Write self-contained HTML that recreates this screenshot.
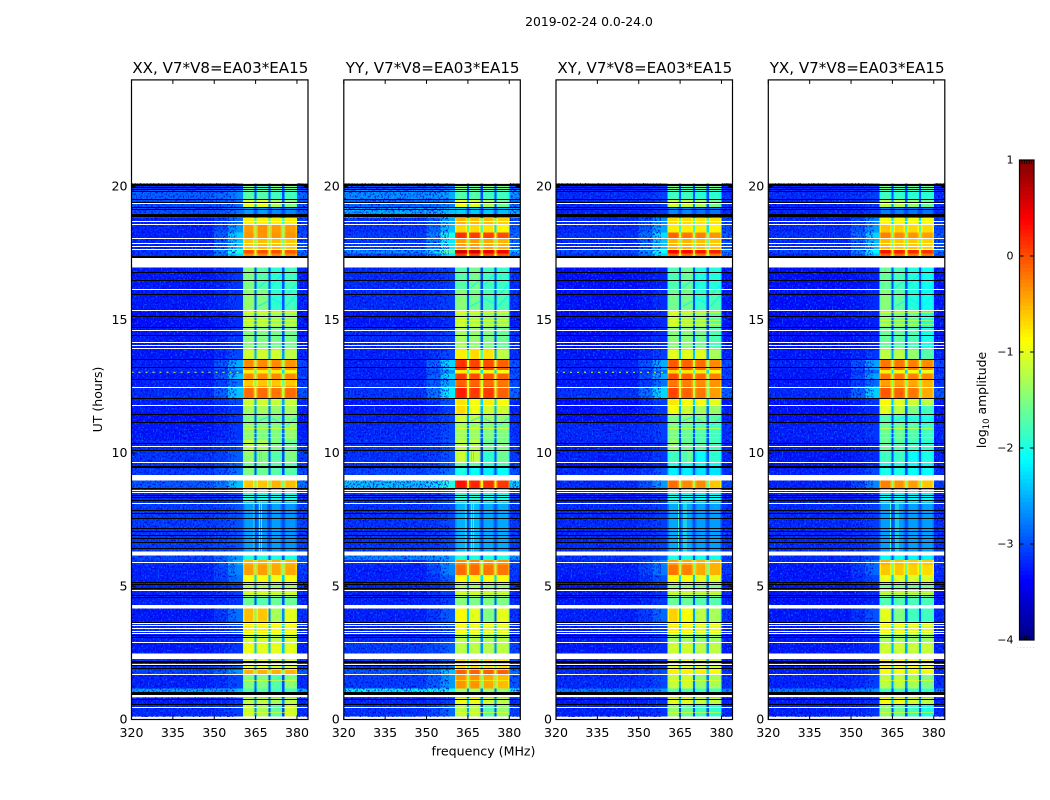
<!DOCTYPE html>
<html lang="en">
<head>
<meta charset="utf-8">
<title>2019-02-24 waterfall</title>
<style>
html,body{margin:0;padding:0;background:#fff;}
svg{display:block;}
text{font-family:"DejaVu Sans","Liberation Sans",sans-serif;fill:#000;}
</style>
</head>
<body>
<svg id="chart" width="1050" height="800" viewBox="0 0 1050 800" xmlns="http://www.w3.org/2000/svg">
<defs>
<filter id="speckle-light" x="0" y="0" width="1" height="1" color-interpolation-filters="sRGB">
<feTurbulence type="fractalNoise" baseFrequency="0.62 0.48" numOctaves="2" seed="4"/>
<feColorMatrix type="matrix" values="0 0 0 0 0  0 0 0 0 0.42  0 0 0 0 1  0 0 0 4.5 -2.45"/>
</filter>
<filter id="speckle-dark" x="0" y="0" width="1" height="1" color-interpolation-filters="sRGB">
<feTurbulence type="fractalNoise" baseFrequency="0.6 0.5" numOctaves="2" seed="19"/>
<feColorMatrix type="matrix" values="0 0 0 0 0  0 0 0 0 0  0 0 0 0 0.85  0 0 0 4.5 -2.2"/>
</filter>
</defs>
<rect x="0" y="0" width="1050" height="800" fill="#fff"/>
<text x="589" y="26" font-size="12.4" text-anchor="middle">2019-02-24 0.0-24.0</text>
<text x="483.5" y="755.5" font-size="12.6" text-anchor="middle">frequency (MHz)</text>
<text x="102" y="399.5" font-size="12.5" text-anchor="middle" transform="rotate(-90 102 399.5)">UT (hours)</text>
<text x="986" y="400" font-size="12.4" text-anchor="middle" transform="rotate(-90 986 400)">log<tspan font-size="8.5" dy="3">10</tspan><tspan dy="-3"> amplitude</tspan></text>
<g id="panels"></g>
<g id="colorbar"></g>
</svg>
<script>
const panelNames = ['XX, V7*V8=EA03*EA15','YY, V7*V8=EA03*EA15','XY, V7*V8=EA03*EA15','YX, V7*V8=EA03*EA15'];
const freqTicks = [320,335,350,365,380];
const hourTicks = [0,5,10,15,20];
const colorTicks = [1,0,-1,-2,-3,-4];
const blockStart = [19.89,19.52,19.22,18.81,18.56,18.28,18.07,17.65,17.48,17.31,16.12,15.37,14.74,13.87,13.49,13.11,12.99,12.75,12.49,12.06,11.79,11.45,11.14,10.49,10.07,9.64,9.43,9.17,8.68,8.14,6.30,5.98,5.80,5.42,5.15,4.61,4.30,3.67,3.23,2.90,2.48,1.86,1.71,1.17,1.04,0.92,0.80,0.54,0.11];
const blockEnd = [20.12,19.89,19.52,19.22,18.81,18.56,18.28,18.07,17.65,17.48,16.97,16.12,15.37,14.74,13.87,13.49,13.11,12.99,12.75,12.49,12.06,11.79,11.45,11.14,10.49,10.07,9.64,9.43,8.96,8.68,8.14,6.15,5.98,5.80,5.42,5.15,4.61,4.16,3.67,3.23,2.90,2.27,1.86,1.71,1.17,1.04,0.92,0.80,0.54];
/* each row: background, shoulder, sub-band 1..4 (log10 amplitude) */
const levelsXX = [
[-3.0,-2.9,-1.5,-1.8,-1.5,-1.5],[-2.75,-2.6,-1.7,-1.7,-1.8,-1.8],[-2.85,-2.7,-1.0,-1.0,-1.3,-1.5],[-2.85,-2.7,-2.6,-2.6,-2.7,-2.7],
[-3.1,-2.7,-0.8,-0.8,-0.8,-0.8],[-3.1,-2.5,-0.4,-0.35,-0.4,-0.4],[-3.1,-2.2,-0.35,-0.35,-0.35,-0.35],[-3.1,-2.3,-0.6,-0.55,-0.55,-0.6],
[-3.0,-1.9,0.0,0.0,0.0,-0.05],[-3.0,-2.2,-0.3,-0.3,-0.3,-0.3],[-3.15,-3.0,-1.5,-1.7,-1.9,-1.8],[-3.15,-3.0,-1.4,-1.5,-1.9,-1.8],
[-3.2,-3.05,-1.25,-1.3,-1.4,-1.4],[-3.15,-3.0,-1.45,-1.5,-1.55,-1.55],[-3.15,-2.9,-1.1,-1.1,-1.1,-1.2],[-3.1,-2.4,-0.3,-0.3,-0.3,-0.35],
[-3.1,-2.7,-0.8,-0.8,-0.8,-0.85],[-3.15,-2.3,-0.3,-0.3,-0.3,-0.3],[-3.1,-2.7,-0.6,-0.6,-0.6,-0.6],[-3.05,-2.3,-0.15,-0.15,-0.2,-0.15],
[-3.1,-2.9,-1.1,-1.1,-1.15,-1.15],[-3.15,-3.0,-1.3,-1.3,-1.4,-1.3],[-3.2,-3.0,-1.5,-1.5,-1.5,-1.5],[-3.15,-3.0,-1.4,-1.5,-1.5,-1.4],
[-3.05,-2.9,-1.2,-1.3,-1.5,-1.6],[-3.0,-2.8,-1.4,-1.5,-1.7,-1.5],[-3.0,-2.8,-1.6,-1.6,-1.7,-1.7],[-2.95,-2.7,-1.5,-1.6,-1.7,-1.7],
[-2.8,-2.3,-0.6,-0.6,-0.5,-0.55],[-3.05,-2.9,-1.9,-2.0,-2.0,-2.0],[-2.95,-2.85,-2.6,-2.65,-2.6,-2.65],[-2.9,-2.5,-2.0,-2.0,-2.0,-2.0],
[-3.0,-2.4,-0.5,-0.5,-0.5,-0.5],[-3.1,-2.6,-0.4,-0.4,-0.45,-0.45],[-3.1,-2.7,-0.9,-0.9,-0.95,-0.9],[-3.1,-2.95,-1.3,-1.3,-1.4,-1.3],
[-3.1,-3.0,-1.6,-1.7,-1.6,-1.6],[-3.15,-2.7,-0.55,-0.6,-1.3,-1.0],[-3.05,-2.9,-0.8,-0.8,-0.9,-0.9],[-3.1,-3.0,-1.1,-1.1,-1.2,-1.1],
[-3.15,-3.0,-0.95,-1.0,-1.0,-1.0],[-3.0,-2.8,-1.0,-1.0,-1.05,-1.05],[-2.9,-2.5,-0.5,-0.5,-0.5,-0.5],[-3.1,-2.9,-1.5,-1.5,-1.7,-1.45],
[-2.4,-2.3,-1.7,-1.7,-1.8,-1.8],[-3.1,-3.0,-2.3,-2.3,-2.4,-2.4],[-2.35,-2.3,-1.9,-1.9,-2.0,-2.0],[-3.15,-3.0,-1.2,-1.2,-1.3,-1.2],[-3.05,-2.95,-1.15,-1.3,-1.65,-1.1]
];
const levelsYY = [
[-2.8,-2.7,-1.4,-1.6,-1.5,-1.5],[-2.5,-2.4,-1.7,-1.7,-1.8,-1.8],[-2.7,-2.6,-0.95,-1.05,-1.3,-1.6],[-2.35,-2.3,-2.35,-2.4,-2.4,-2.45],
[-3.0,-2.4,-0.5,-0.55,-0.55,-0.65],[-3.0,-2.3,-0.7,-0.7,-0.75,-0.85],[-2.95,-1.9,0.15,0.1,0.05,0.0],[-2.95,-2.1,-0.4,-0.4,-0.45,-0.5],
[-2.5,-1.6,0.6,0.55,0.45,0.4],[-2.9,-2.1,0.1,0.05,0.0,-0.05],[-3.05,-2.95,-1.7,-1.55,-1.8,-1.85],[-3.05,-2.95,-1.45,-1.55,-1.75,-1.75],
[-3.15,-3.05,-1.2,-1.3,-1.4,-1.4],[-3.05,-2.95,-1.3,-1.4,-1.5,-1.6],[-3.1,-2.9,-0.8,-0.7,-0.75,-1.2],[-3.1,-2.2,0.15,0.05,0.0,-0.1],
[-3.1,-2.5,-0.8,-0.8,-0.85,-0.9],[-3.1,-2.2,0.1,0.0,-0.05,-0.1],[-3.05,-2.4,-0.1,-0.1,-0.15,-0.2],[-3.0,-2.1,0.25,0.1,0.1,-0.1],
[-3.15,-2.85,-0.75,-0.9,-0.8,-0.9],[-3.15,-2.95,-0.7,-0.95,-1.1,-1.1],[-3.1,-2.9,-1.1,-1.15,-1.3,-1.4],[-3.05,-2.9,-1.3,-1.35,-1.5,-1.5],
[-3.0,-2.85,-1.2,-1.25,-1.6,-1.5],[-3.0,-2.85,-1.1,-1.2,-1.9,-1.6],[-3.0,-2.8,-1.7,-1.7,-1.9,-1.8],[-2.9,-2.7,-2.0,-2.1,-2.2,-2.1],
[-2.25,-1.85,0.3,0.2,0.15,0.1],[-3.0,-2.85,-1.9,-1.9,-2.0,-2.0],[-3.0,-2.9,-2.5,-2.45,-2.55,-2.55],[-2.55,-2.4,-1.95,-2.0,-2.0,-2.0],
[-3.0,-2.5,-0.3,-0.3,-0.35,-0.35],[-3.1,-2.6,-0.15,-0.15,-0.2,-0.2],[-3.1,-2.8,-0.85,-0.85,-0.9,-0.9],[-3.1,-2.95,-1.3,-1.3,-1.4,-1.4],
[-3.1,-2.95,-1.45,-1.5,-1.5,-1.5],[-3.1,-2.8,-0.85,-1.0,-1.5,-1.0],[-3.05,-2.9,-0.9,-0.95,-1.0,-1.0],[-3.05,-2.9,-1.2,-1.2,-1.3,-1.2],
[-2.95,-2.8,-1.2,-1.2,-1.25,-1.2],[-2.95,-2.7,-0.7,-0.7,-0.75,-0.75],[-2.8,-2.3,-0.1,-0.1,-0.1,-0.1],[-2.95,-2.5,-0.35,-0.35,-0.45,-0.55],
[-2.0,-1.9,-1.3,-1.3,-1.35,-1.4],[-3.0,-2.9,-2.2,-2.2,-2.3,-2.3],[-2.9,-2.8,-2.0,-2.0,-2.1,-2.1],[-3.1,-2.95,-0.95,-0.95,-1.1,-1.2],[-3.0,-2.75,-1.2,-1.2,-1.7,-1.4]
];
const levelsXY = [
[-3.1,-3.0,-1.5,-1.7,-1.55,-1.55],[-3.05,-2.95,-1.8,-1.8,-1.9,-1.9],[-3.05,-2.95,-1.1,-1.15,-1.3,-1.55],[-3.1,-3.0,-2.7,-2.7,-2.8,-2.8],
[-3.05,-2.55,-0.7,-0.7,-0.75,-0.75],[-3.05,-2.45,-0.8,-0.8,-0.8,-0.85],[-3.0,-2.15,-0.1,-0.2,-0.25,-0.35],[-3.05,-2.3,-0.5,-0.5,-0.55,-0.6],
[-2.85,-1.95,0.4,0.35,0.3,0.25],[-3.0,-2.2,-0.1,-0.15,-0.2,-0.25],[-3.2,-3.1,-1.75,-1.6,-1.95,-1.95],[-3.2,-3.05,-1.55,-1.55,-1.85,-1.75],
[-3.2,-3.05,-1.15,-1.3,-1.4,-1.7],[-3.2,-3.05,-1.45,-1.45,-1.55,-1.75],[-3.15,-2.95,-1.0,-1.0,-1.0,-1.3],[-3.1,-2.4,-0.05,-0.1,-0.15,-0.3],
[-3.1,-2.7,-0.7,-0.75,-0.8,-0.85],[-3.15,-2.4,0.0,-0.1,-0.15,-0.25],[-3.15,-2.7,-0.2,-0.25,-0.3,-0.35],[-3.0,-2.2,0.05,-0.1,-0.2,-0.4],
[-3.2,-2.95,-0.75,-0.9,-0.9,-1.0],[-3.2,-3.0,-0.9,-1.1,-1.3,-1.4],[-3.2,-3.05,-1.5,-1.4,-1.5,-1.7],[-3.05,-2.95,-1.5,-1.6,-1.7,-1.8],
[-3.1,-3.0,-1.4,-1.6,-1.7,-1.8],[-3.1,-3.0,-1.8,-1.6,-2.1,-1.9],[-3.2,-3.1,-2.0,-2.05,-2.1,-2.1],[-3.05,-2.85,-2.2,-2.2,-2.25,-2.25],
[-3.05,-2.5,-0.15,-0.3,-0.3,-0.6],[-3.15,-3.0,-2.0,-2.05,-2.1,-2.1],[-3.05,-2.95,-2.55,-2.55,-2.6,-2.6],[-3.0,-2.85,-2.0,-2.0,-2.05,-2.05],
[-3.05,-2.6,-0.4,-0.45,-0.5,-0.5],[-3.1,-2.65,-0.2,-0.25,-0.45,-0.5],[-3.15,-2.85,-0.85,-0.9,-1.0,-1.0],[-3.15,-3.0,-1.4,-1.4,-1.5,-1.5],
[-3.15,-3.0,-1.6,-1.6,-1.7,-1.7],[-3.1,-2.75,-0.65,-0.9,-1.2,-1.3],[-3.1,-2.95,-0.8,-0.85,-1.0,-1.0],[-3.15,-3.0,-1.3,-1.3,-1.4,-1.35],
[-3.15,-3.05,-1.1,-1.1,-1.2,-1.2],[-3.15,-3.0,-1.0,-1.0,-1.05,-1.1],[-3.05,-2.85,-0.8,-0.8,-0.8,-0.9],[-3.05,-2.9,-1.15,-1.1,-1.4,-1.3],
[-2.6,-2.5,-1.7,-1.75,-1.8,-1.8],[-3.1,-3.0,-2.4,-2.4,-2.45,-2.45],[-2.9,-2.85,-2.0,-2.0,-2.05,-2.05],[-3.15,-3.05,-1.0,-1.0,-1.15,-1.2],[-3.1,-3.0,-1.4,-1.6,-1.8,-1.9]
];
const levelsYX = [
[-3.1,-3.0,-1.5,-1.7,-1.6,-1.6],[-3.05,-2.95,-1.8,-1.85,-1.9,-1.9],[-3.1,-3.0,-1.2,-1.25,-1.4,-1.6],[-3.1,-3.0,-2.75,-2.75,-2.8,-2.8],
[-3.1,-2.6,-0.85,-0.85,-0.9,-0.9],[-3.05,-2.5,-0.6,-0.65,-0.7,-0.7],[-3.0,-2.2,-0.25,-0.3,-0.35,-0.4],[-3.05,-2.35,-0.55,-0.6,-0.6,-0.65],
[-2.9,-2.05,0.3,0.25,0.2,0.15],[-3.05,-2.3,-0.1,-0.15,-0.2,-0.2],[-3.2,-3.1,-1.6,-1.75,-1.95,-2.05],[-3.2,-3.05,-1.45,-1.65,-1.95,-2.05],
[-3.2,-3.1,-1.45,-1.55,-1.65,-1.95],[-3.2,-3.1,-1.6,-1.65,-1.75,-2.0],[-3.15,-3.0,-1.2,-1.2,-1.4,-1.7],[-3.1,-2.45,-0.2,-0.2,-0.25,-0.3],
[-3.15,-2.75,-0.8,-0.85,-0.9,-0.95],[-3.15,-2.45,-0.2,-0.2,-0.25,-0.3],[-3.15,-2.75,-0.4,-0.4,-0.45,-0.5],[-3.05,-2.25,-0.05,-0.1,-0.2,-0.45],
[-3.2,-3.0,-0.85,-1.0,-1.1,-1.2],[-3.2,-3.05,-1.0,-1.2,-1.5,-1.8],[-3.2,-3.1,-1.7,-1.8,-1.9,-2.0],[-3.1,-3.0,-1.6,-1.6,-1.7,-1.8],
[-3.15,-3.05,-1.6,-1.7,-1.8,-1.9],[-3.15,-3.05,-1.8,-1.8,-2.1,-2.0],[-3.2,-3.1,-2.0,-2.0,-2.1,-2.1],[-3.1,-2.9,-2.0,-2.0,-2.1,-2.1],
[-3.1,-2.6,-0.25,-0.35,-0.4,-0.6],[-3.15,-3.05,-2.1,-2.1,-2.15,-2.15],[-3.05,-2.95,-2.6,-2.6,-2.6,-2.6],[-3.05,-2.9,-2.1,-2.1,-2.15,-2.15],
[-3.1,-2.7,-0.5,-0.55,-0.6,-0.6],[-3.15,-2.75,-0.6,-0.6,-0.65,-0.7],[-3.15,-2.9,-0.95,-1.0,-1.05,-1.05],[-3.15,-3.05,-1.5,-1.5,-1.55,-1.55],
[-3.2,-3.1,-1.7,-1.7,-1.75,-1.75],[-3.15,-2.85,-1.0,-1.5,-1.8,-1.8],[-3.15,-3.0,-0.9,-0.95,-1.0,-1.05],[-3.15,-3.05,-1.3,-1.3,-1.35,-1.35],
[-3.15,-3.05,-1.1,-1.1,-1.15,-1.15],[-3.15,-3.05,-0.8,-0.85,-0.9,-0.95],[-3.1,-2.95,-0.9,-0.9,-0.95,-0.95],[-3.1,-2.95,-1.2,-1.2,-1.3,-1.5],
[-2.6,-2.5,-1.8,-1.8,-1.85,-1.85],[-3.1,-3.0,-2.4,-2.4,-2.45,-2.45],[-2.9,-2.85,-2.0,-2.0,-2.05,-2.05],[-3.15,-3.05,-0.9,-0.95,-1.1,-1.2],[-3.1,-3.0,-1.4,-1.6,-1.8,-2.0]
];
const panelLevels = [levelsXX,levelsYY,levelsXY,levelsYX];
const gapStart = [16.97,8.96,6.15,4.16,2.27];
const gapEnd = [17.31,9.17,6.30,4.30,2.48];
const whiteLineHours = [19.37,18.72,18.60,18.08,17.87,17.78,17.64,16.14,15.35,14.60,14.15,14.04,13.93,12.49,11.79,10.26,9.65,8.61,8.52,8.11,5.90,4.86,3.62,3.53,3.43,3.33,3.23,2.90,2.08,1.71,1.70,0.92,0.90,0.48,0.07,0.02];
const blackLineHours = [20.10,20.07,19.97,19.89,19.84,19.52,19.43,19.22,19.14,18.97,18.94,18.91,17.39,17.34,16.80,16.49,15.95,15.15,14.72,14.43,13.52,13.22,12.77,12.06,11.45,11.15,10.39,10.11,9.51,9.46,8.68,8.42,8.34,8.24,7.86,7.76,7.55,7.20,7.08,6.92,6.80,6.67,6.45,5.15,5.08,4.92,4.67,4.61,3.67,3.17,3.08,2.21,2.15,2.05,1.92,1.04,1.0,0.96,0.76,0.57];
const spikeFreqs = [364.2,366.2,366.9];
const spikeStart = [6.30,9.64];
const spikeEnd = [8.14,10.07];
const rfiHours = [13.03,null,13.03,null];
/* faint diagonal wisps inside the bands */
const wispFreqFrom = [366,371,376,366,371,376,366,371,376];
const wispHourFrom = [16.2,16.3,15.9,15.5,15.8,15.5,11.2,11.3,11.0];
const wispFreqTo = [369.5,374.5,379.5,369.5,374.5,379.5,369.5,374.5,379.5];
const wispHourTo = [16.5,16.7,16.3,15.7,15.6,15.9,11.35,11.1,11.3];
/* thin bright horizontal stripes inside the bands */
const stripeHours = [15.28,15.12,14.98,14.85,11.05,10.92,10.75,10.6,4.8,4.72,1.5,0.3];

const SVGNS = 'http://www.w3.org/2000/svg';
const panelLeft = [131.5,343.8,556,768.3];
const panelWidth = 176.5;
const bottomY = 719.5;
const pxPerHour = 26.65;
const freqMin = 320, freqMax = 384;
const bgTone = -0.12;
function yOf(h){ return bottomY - h*pxPerHour; }
function xOf(p,f){ return panelLeft[p] + (f-freqMin)/(freqMax-freqMin)*panelWidth; }
function clamp01(v){ return Math.max(0,Math.min(1,v)); }
function jet(v){
  const n = clamp01((v+4)/5);
  const r = clamp01(Math.min(4*n-1.5,-4*n+4.5));
  const g = clamp01(Math.min(4*n-0.5,-4*n+3.5));
  const b = clamp01(Math.min(4*n+0.5,-4*n+2.5));
  return 'rgb('+Math.round(r*255)+','+Math.round(g*255)+','+Math.round(b*255)+')';
}
function make(tag,attrs,parent){
  const el = document.createElementNS(SVGNS,tag);
  for(const k in attrs){ el.setAttribute(k,attrs[k]); }
  parent.appendChild(el);
  return el;
}
function cell(p,g,f0,f1,h0,h1,v){
  const el = make('rect',{x:xOf(p,f0).toFixed(2),y:yOf(h1).toFixed(2),width:(xOf(p,f1)-xOf(p,f0)).toFixed(2),height:(yOf(h0)-yOf(h1)).toFixed(2),fill:jet(v),'shape-rendering':'crispEdges'},g);
  
  
  return el;
}
const root = document.getElementById('panels');
panelNames.forEach(function(name,p){
  const L = panelLeft[p], R = L+panelWidth;
  const g = make('g',{},root);
  
  
  const heat = make('g',{},g);
  
  
  const levels = panelLevels[p];
  blockStart.forEach(function(h0,i){
    const h1 = blockEnd[i], row = levels[i], bg = row[0]+bgTone, sh = row[1]+bgTone;
    cell(p,heat,320,350,h0,h1,bg);
    cell(p,heat,350,355,h0,h1,bg*0.6+sh*0.4);
    cell(p,heat,355,360.4,h0,h1,sh);
    cell(p,heat,380,384,h0,h1,bg*0.7+sh*0.3);
    const edges = [360.4,365.4,370.4,375.4];
    const ends = [364.6,369.6,374.6,380];
    for(let b=0;b<4;b++){
      const v = row[2+b];
      cell(p,heat,edges[b],edges[b]+0.5,h0,h1,v-0.2);
      cell(p,heat,edges[b]+0.5,ends[b]-0.5,h0,h1,v);
      cell(p,heat,ends[b]-0.5,ends[b],h0,h1,v-0.2);
      if(b<3){
        const low = Math.min(v,row[3+b]);
        cell(p,heat,ends[b],edges[b+1],h0,h1,Math.max(low-(low<-0.8?1.4:1.0),-3.0));
      }
    }
  });
  spikeStart.forEach(function(h0,i){
    spikeFreqs.forEach(function(f){
      cell(p,heat,f,f+0.35,h0,spikeEnd[i],-1.9);
    });
  });
  wispFreqFrom.forEach(function(f,i){
    const w = make('line',{x1:xOf(p,f),y1:yOf(wispHourFrom[i]),x2:xOf(p,wispFreqTo[i]),y2:yOf(wispHourTo[i]),stroke:jet(-2.2),'stroke-width':'1.4',opacity:'0.65'},g);
    
    
  });
  stripeHours.forEach(function(h){
    const s = make('rect',{x:xOf(p,360.4).toFixed(1),y:Math.round(yOf(h)),width:(xOf(p,380)-xOf(p,360.4)).toFixed(1),height:'1',fill:jet(-0.9),opacity:'0.55','shape-rendering':'crispEdges'},g);
    
    
  });
  const top = yOf(20.12), bot = yOf(0.11);
  const zones = [[320,358],[380.3,384]];
  zones.forEach(function(z){
    ['speckle-dark','speckle-light'].forEach(function(fid){
      const s = make('rect',{x:xOf(p,z[0]).toFixed(1),y:top.toFixed(1),width:(xOf(p,z[1])-xOf(p,z[0])).toFixed(1),height:(bot-top).toFixed(1),filter:'url(#'+fid+')',opacity:'0.9'},g);
      
      
    });
  });
  if(rfiHours[p]!==null){
    const r = make('line',{x1:L,x2:xOf(p,360),y1:yOf(rfiHours[p]),y2:yOf(rfiHours[p]),stroke:jet(-1.1),'stroke-width':'1','stroke-dasharray':'2 5'},g);
    
    
  }
  gapStart.forEach(function(h0,i){
    const y1 = yOf(gapEnd[i]);
    const w = make('rect',{x:L,y:y1.toFixed(1),width:panelWidth,height:(yOf(h0)-y1).toFixed(1),fill:'#fff','shape-rendering':'crispEdges'},g);
    
    
  });
  whiteLineHours.forEach(function(h){
    const w = make('rect',{x:L,y:Math.round(yOf(h)),width:panelWidth,height:'1',fill:'#fff','shape-rendering':'crispEdges'},g);
    
    
  });
  blackLineHours.forEach(function(h){
    const w = make('rect',{x:L,y:Math.round(yOf(h)),width:panelWidth,height:'1',fill:'#000','shape-rendering':'crispEdges'},g);
    
    
  });
  const frame = make('rect',{x:L,y:yOf(24),width:panelWidth,height:pxPerHour*24,fill:'none',stroke:'#000','stroke-width':'1.2'},g);
  
  
  freqTicks.forEach(function(f){
    const x = xOf(p,f);
    const t1 = make('line',{x1:x,x2:x,y1:bottomY,y2:bottomY-4,stroke:'#000','stroke-width':'1'},g);
    
    
    const t2 = make('line',{x1:x,x2:x,y1:yOf(24),y2:yOf(24)+4,stroke:'#000','stroke-width':'1'},g);
    
    
    const lbl = make('text',{x:x,y:737,'font-size':'12.6','text-anchor':'middle'},g);
    lbl.textContent = f;
    
    
  });
  hourTicks.forEach(function(h){
    const y = yOf(h);
    const t1 = make('line',{x1:L,x2:L+4,y1:y,y2:y,stroke:'#000','stroke-width':'1'},g);
    
    
    const t2 = make('line',{x1:R,x2:R-4,y1:y,y2:y,stroke:'#000','stroke-width':'1'},g);
    
    
    const lbl = make('text',{x:L-4,y:y+4,'font-size':'12.6','text-anchor':'end'},g);
    lbl.textContent = h;
    
    
  });
  const title = make('text',{x:L+panelWidth/2+0.6,y:73,'font-size':'15.1','text-anchor':'middle'},g);
  title.textContent = name;
  
  
});

const cb = document.getElementById('colorbar');
const cbLeft = 1019.5, cbWidth = 14.5, cbTop = 160, cbBottom = 640;
function cbY(v){ return cbBottom - (v+4)/5*(cbBottom-cbTop); }
for(let v=-4; v<1; v+=0.04){
  const y1 = cbY(v+0.04);
  const seg = make('rect',{x:cbLeft,y:y1.toFixed(2),width:cbWidth,height:(cbY(v)-y1+0.3).toFixed(2),fill:jet(v+0.02),'shape-rendering':'crispEdges'},cb);
  
  
}
const cbFrame = make('rect',{x:cbLeft,y:cbTop,width:cbWidth,height:cbBottom-cbTop,fill:'none',stroke:'#000','stroke-width':'1.2'},cb);


for(let i=1;i<6;i++){
  const x = cbLeft + i*cbWidth/6;
  const t1 = make('line',{x1:x,x2:x,y1:cbTop,y2:cbTop+4,stroke:'#000','stroke-width':'0.8'},cb);
  
  
  const t2 = make('line',{x1:x,x2:x,y1:cbBottom,y2:cbBottom-4,stroke:'#000','stroke-width':'0.8'},cb);
  
  
}
colorTicks.forEach(function(v){
  const y = cbY(v);
  if(v>-4 && v<1){
    const a = make('line',{x1:cbLeft,x2:cbLeft+4,y1:y,y2:y,stroke:'#000','stroke-width':'1'},cb);
    
    
    const b = make('line',{x1:cbLeft+cbWidth,x2:cbLeft+cbWidth-4,y1:y,y2:y,stroke:'#000','stroke-width':'1'},cb);
    
    
  }
  const lbl = make('text',{x:1013.5,y:y+3.5,'font-size':'11','text-anchor':'end'},cb);
  lbl.textContent = v<0 ? '\u2212'+Math.abs(v) : String(v);
  
  
});
const dots = make('text',{x:1017,y:648,'font-size':'5','letter-spacing':'1.5',style:'fill:#888'},cb);
dots.textContent = '......';


</script>
</body>
</html>
